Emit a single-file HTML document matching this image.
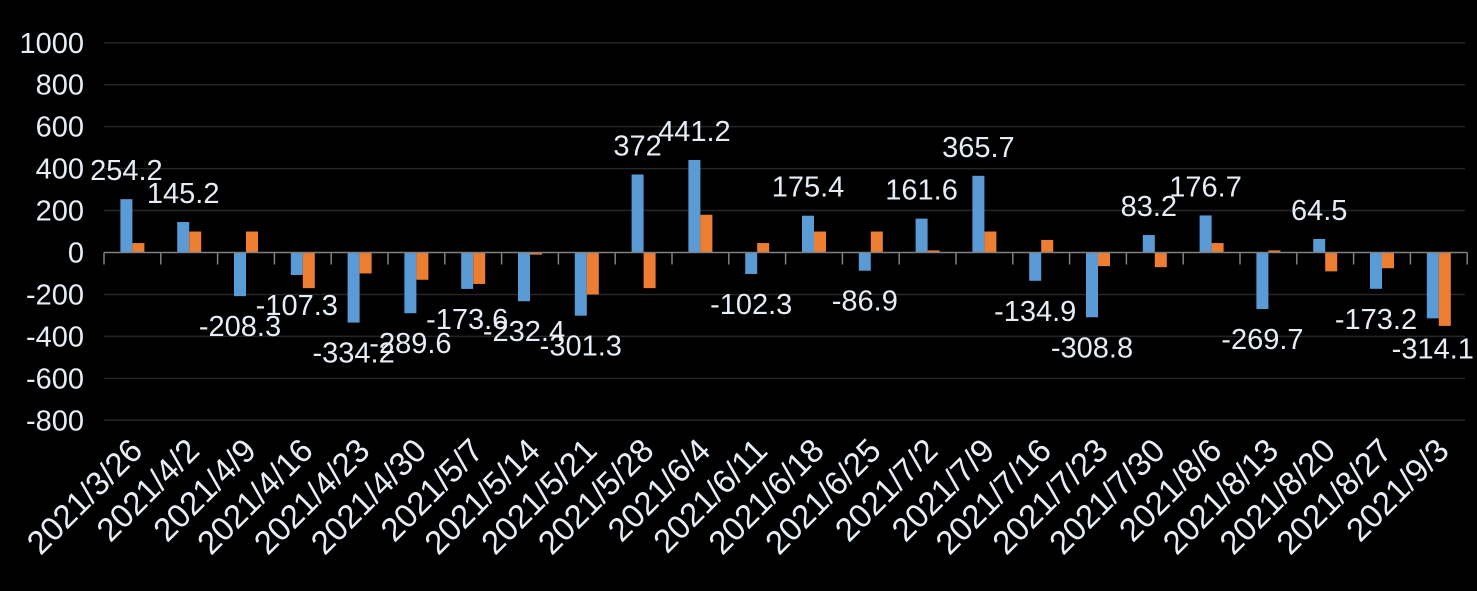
<!DOCTYPE html>
<html><head><meta charset="utf-8"><style>
html,body{margin:0;padding:0;background:#000;}
svg{display:block;font-family:"Liberation Sans",sans-serif;}
</style></head><body>
<svg id="chart" width="1477" height="591" viewBox="0 0 1477 591"></svg>
<script>
const categories=["2021/3/26","2021/4/2","2021/4/9","2021/4/16","2021/4/23","2021/4/30","2021/5/7","2021/5/14","2021/5/21","2021/5/28","2021/6/4","2021/6/11","2021/6/18","2021/6/25","2021/7/2","2021/7/9","2021/7/16","2021/7/23","2021/7/30","2021/8/6","2021/8/13","2021/8/20","2021/8/27","2021/9/3"];
const blueValues=[254.2,145.2,-208.3,-107.3,-334.2,-289.6,-173.6,-232.4,-301.3,372,441.2,-102.3,175.4,-86.9,161.6,365.7,-134.9,-308.8,83.2,176.7,-269.7,64.5,-173.2,-314.1];
const orangeValues=[45,100,100,-170,-100,-130,-150,-10,-200,-170,180,45,100,100,10,100,60,-65,-70,45,10,-90,-75,-350];
const yTicks=[1000,800,600,400,200,0,-200,-400,-600,-800];
const NS="http://www.w3.org/2000/svg";
const svg=document.getElementById('chart');
const x0=104,cw=56.8,y0=252.5,k=0.2097;
const y=v=>y0-v*k;
const xc=i=>x0+cw*i+cw/2;
function mk(t,a){const e=document.createElementNS(NS,t);for(const n in a)e.setAttribute(n,a[n]);svg.appendChild(e);return e;}
yTicks.forEach(t=>{
  if(t!==0){const g=mk('line',{x1:x0,x2:1465,y1:y(t),y2:y(t),stroke:'#262626','stroke-width':1.5});
  
  }
  const l=mk('text',{x:84,y:y(t)+10,'text-anchor':'end','font-size':29,fill:'#e6edf5'});
  l.textContent=t;
  
  
});
categories.forEach((c,i)=>{
  const bv=blueValues[i],ov=orangeValues[i];
  const b=mk('rect',{x:xc(i)-12,width:12,y:Math.min(y(bv),y0),height:Math.abs(bv*k),fill:'#5b9bd5'});
  
  
  const o=mk('rect',{x:xc(i),width:12,y:Math.min(y(ov),y0),height:Math.abs(ov*k),fill:'#ed7d31'});
  
  
  const lv=mk('text',{x:xc(i)-6,y:bv>=0?y(bv)-19:y(bv)+40,'text-anchor':'middle','font-size':29,fill:'#e6edf5'});
  lv.textContent=bv;
  
  
  const tk=mk('line',{x1:x0+cw*i,x2:x0+cw*i,y1:y0,y2:y0+12,stroke:'#808080','stroke-width':1.5});
  
  
  const tl=mk('text',{x:0,y:0,'text-anchor':'end','font-size':33,fill:'#e6edf5',transform:`translate(${xc(i)+12},${y0+200}) rotate(-45)`});
  tl.textContent=c;
  
  
});
const ax=mk('line',{x1:x0,x2:x0+cw*24,y1:y0,y2:y0,stroke:'#808080','stroke-width':1.5});


const te=mk('line',{x1:x0+cw*24,x2:x0+cw*24,y1:y0,y2:y0+12,stroke:'#808080','stroke-width':1.5});


</script>
</body></html>
